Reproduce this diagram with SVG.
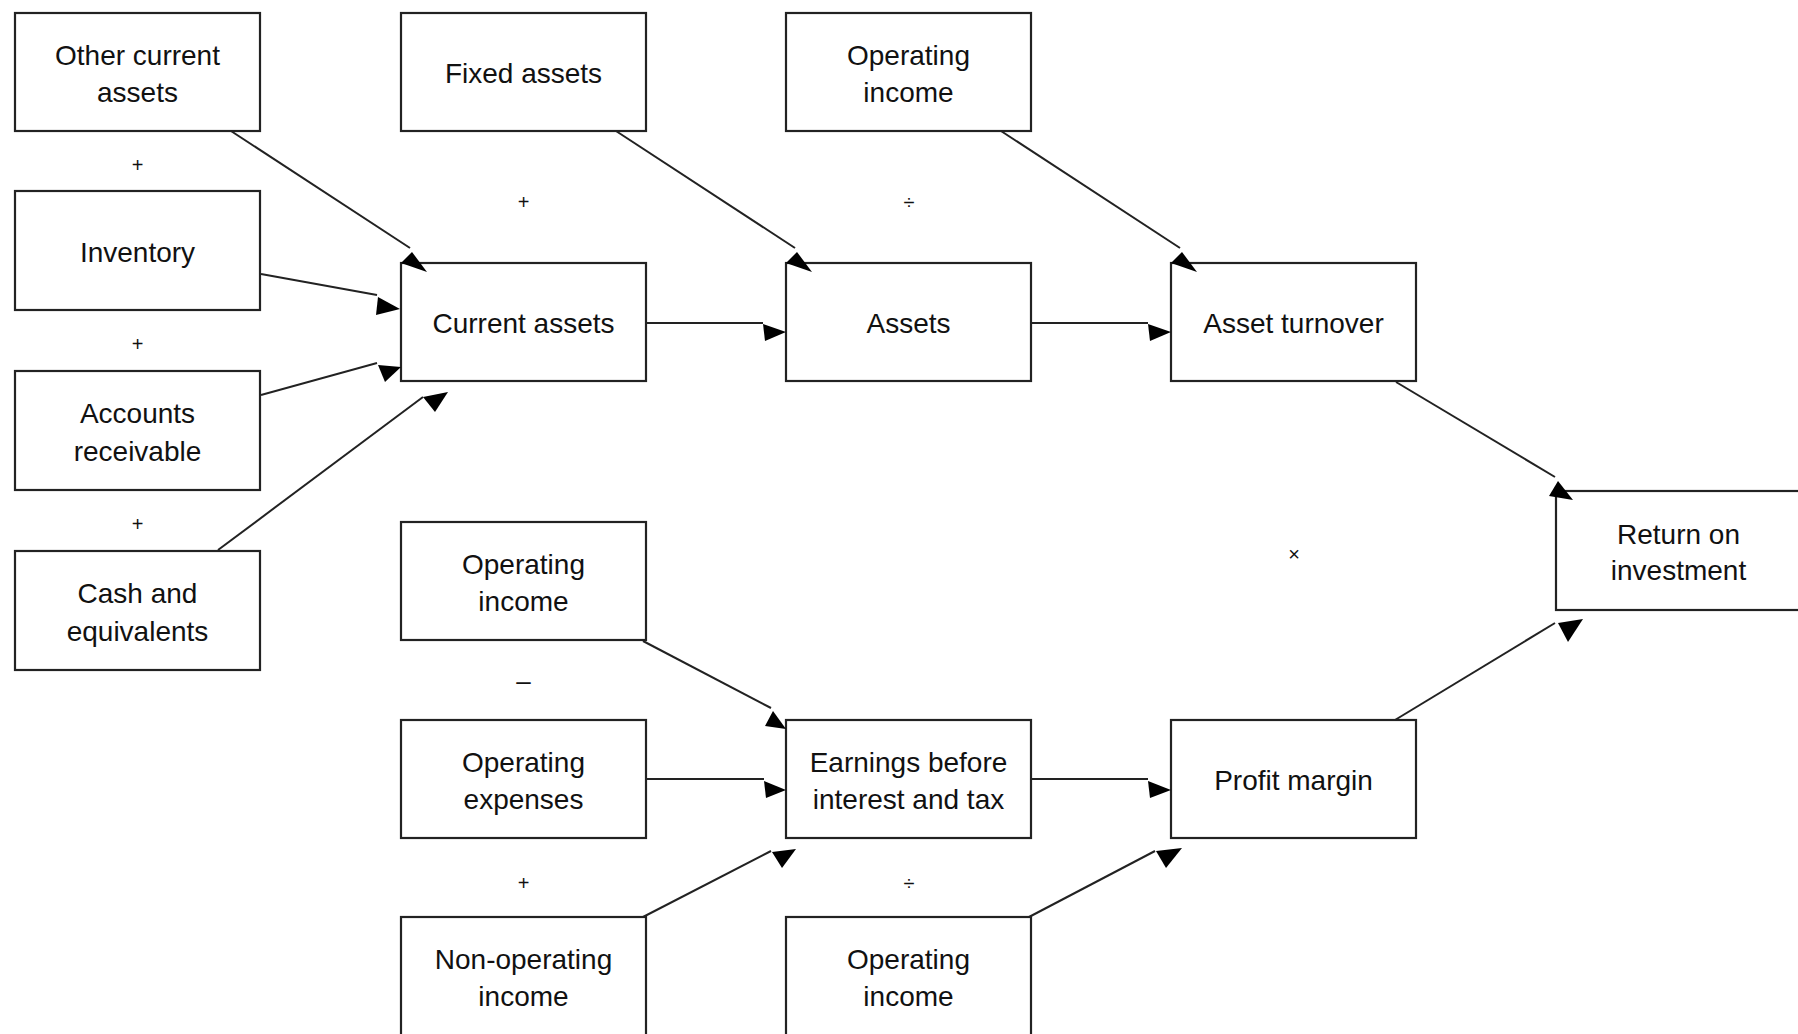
<svg xmlns="http://www.w3.org/2000/svg" width="1798" height="1034" viewBox="0 0 1798 1034">
<style>
.box{fill:#fff;stroke:#222;stroke-width:2.2}
.t{font-family:"Liberation Sans",Arial,sans-serif;font-size:28px;fill:#111;text-anchor:middle}
.op{font-family:"Liberation Sans",Arial,sans-serif;font-size:20px;fill:#111;text-anchor:middle}
.ln{fill:none;stroke:#222;stroke-width:2}
.ah{fill:#000;stroke:none}
</style>
<rect width="1798" height="1034" fill="#fff"/>
<g id="operators">
<text class="op" x="137.5" y="172">+</text>
<text class="op" x="137.5" y="351">+</text>
<text class="op" x="137.5" y="531">+</text>
<text class="op" x="523.5" y="209">+</text>
<text class="op" x="909" y="209">÷</text>
<text class="op" x="1294" y="561">×</text>
<text class="op" x="523.5" y="690" style="font-size:26px">–</text>
<text class="op" x="523.5" y="890">+</text>
<text class="op" x="909" y="890">÷</text>
</g>
<g id="n-other-current-assets"><rect class="box" x="15" y="13" width="245" height="118"/><text class="t" x="137.5" y="64.5">Other current</text><text class="t" x="137.5" y="102">assets</text></g>
<g id="n-inventory"><rect class="box" x="15" y="191" width="245" height="119"/><text class="t" x="137.5" y="261.5">Inventory</text></g>
<g id="n-accounts-receivable"><rect class="box" x="15" y="371" width="245" height="119"/><text class="t" x="137.5" y="423">Accounts</text><text class="t" x="137.5" y="460.5">receivable</text></g>
<g id="n-cash"><rect class="box" x="15" y="551" width="245" height="119"/><text class="t" x="137.5" y="603">Cash and</text><text class="t" x="137.5" y="640.5">equivalents</text></g>
<g id="n-fixed-assets"><rect class="box" x="401" y="13" width="245" height="118"/><text class="t" x="523.5" y="83">Fixed assets</text></g>
<g id="n-current-assets"><rect class="box" x="401" y="263" width="245" height="118"/><text class="t" x="523.5" y="333">Current assets</text></g>
<g id="n-operating-income-1"><rect class="box" x="786" y="13" width="245" height="118"/><text class="t" x="908.5" y="64.5">Operating</text><text class="t" x="908.5" y="102">income</text></g>
<g id="n-assets"><rect class="box" x="786" y="263" width="245" height="118"/><text class="t" x="908.5" y="333">Assets</text></g>
<g id="n-asset-turnover"><rect class="box" x="1171" y="263" width="245" height="118"/><text class="t" x="1293.5" y="333">Asset turnover</text></g>
<g id="n-roi"><rect class="box" x="1556" y="491" width="250" height="119"/><text class="t" x="1678.5" y="544">Return on</text><text class="t" x="1678.5" y="580">investment</text></g>
<g id="n-operating-income-2"><rect class="box" x="401" y="522" width="245" height="118"/><text class="t" x="523.5" y="573.5">Operating</text><text class="t" x="523.5" y="611">income</text></g>
<g id="n-operating-expenses"><rect class="box" x="401" y="720" width="245" height="118"/><text class="t" x="523.5" y="771.5">Operating</text><text class="t" x="523.5" y="809">expenses</text></g>
<g id="n-non-operating-income"><rect class="box" x="401" y="917" width="245" height="125"/><text class="t" x="523.5" y="968.5">Non-operating</text><text class="t" x="523.5" y="1006">income</text></g>
<g id="n-ebit"><rect class="box" x="786" y="720" width="245" height="118"/><text class="t" x="908.5" y="771.5">Earnings before</text><text class="t" x="908.5" y="809">interest and tax</text></g>
<g id="n-operating-income-3"><rect class="box" x="786" y="917" width="245" height="125"/><text class="t" x="908.5" y="968.5">Operating</text><text class="t" x="908.5" y="1006">income</text></g>
<g id="n-profit-margin"><rect class="box" x="1171" y="720" width="245" height="118"/><text class="t" x="1293.5" y="790">Profit margin</text></g>
<g id="connectors">
<path class="ln" d="M231,131 L410,248"/><polygon class="ah" points="412,252 401,263 427,272"/>
<path class="ln" d="M261,274 L377,295"/><polygon class="ah" points="378,297 400,309 376,315"/>
<path class="ln" d="M261,395 L377,363"/><polygon class="ah" points="378,365 401,367 385,382"/>
<path class="ln" d="M218,550 L423,397"/><polygon class="ah" points="423,397 448,392 435,412"/>
<path class="ln" d="M616,131 L795,248"/><polygon class="ah" points="797,252 786,263 812,272"/>
<path class="ln" d="M646,323 H763"/><polygon class="ah" points="763,324 786,332 765,341"/>
<path class="ln" d="M1001,131 L1180,248"/><polygon class="ah" points="1182,252 1171,263 1197,272"/>
<path class="ln" d="M1031,323 H1148"/><polygon class="ah" points="1148,324 1171,332 1150,341"/>
<path class="ln" d="M1396,382 L1555,477"/><polygon class="ah" points="1558,481 1549,496 1573,500"/>
<path class="ln" d="M643,641 L771,708"/><polygon class="ah" points="773,711 765,726 786,729"/>
<path class="ln" d="M646,779 H764"/><polygon class="ah" points="764,781 786,790 766,798"/>
<path class="ln" d="M643,917 L771,851"/><polygon class="ah" points="772,852 796,849 782,868"/>
<path class="ln" d="M1031,779 H1148"/><polygon class="ah" points="1148,781 1171,790 1150,798"/>
<path class="ln" d="M1029,917 L1155,851"/><polygon class="ah" points="1156,851 1182,848 1166,868"/>
<path class="ln" d="M1395,720 L1555,623"/><polygon class="ah" points="1558,623 1583,619 1568,642"/>
</g>
</svg>
